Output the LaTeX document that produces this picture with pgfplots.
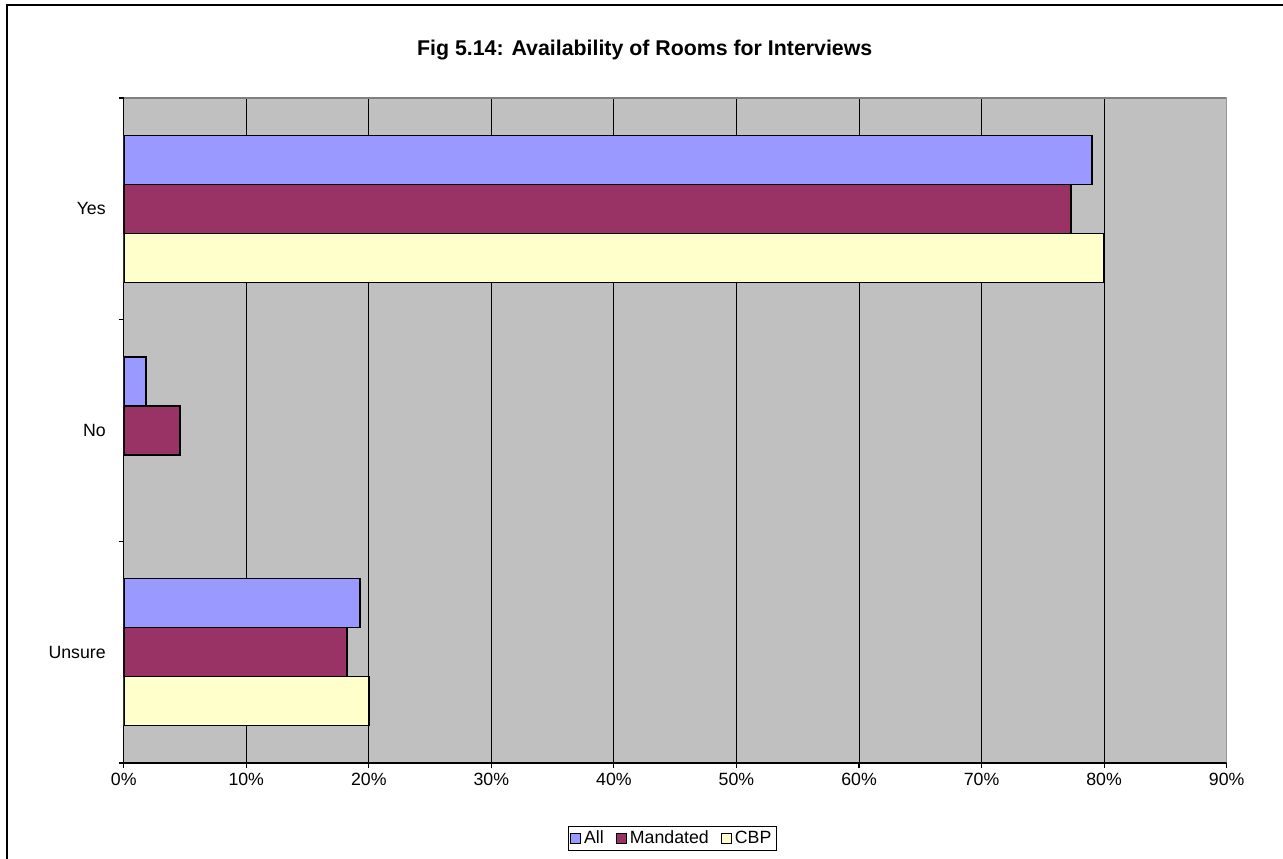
\documentclass[border=0pt]{standalone}
\usepackage{pgfplots}
\pgfplotsset{compat=1.18}
\usepackage{fontspec}
\setmainfont{Liberation Sans}
\definecolor{cAll}{HTML}{9999FF}
\definecolor{cMan}{HTML}{993366}
\definecolor{cCBP}{HTML}{FFFFCC}
\definecolor{plotbg}{HTML}{C0C0C0}
\definecolor{bordgray}{HTML}{808080}
\begin{document}
\begin{tikzpicture}
\useasboundingbox (-92.8pt,-72pt) rectangle (869.5pt,572.25pt);
\draw[line width=1.5pt] (-87.3pt,-120pt) rectangle (920pt,568.5pt);
\node[font=\bfseries\fontsize{16}{19}\selectfont, anchor=base, inner sep=0pt] at (390.75pt,530.25pt) {Fig 5.14: Availability of Rooms for Interviews};
\begin{axis}[
  at={(0pt,0pt)}, anchor=south west,
  scale only axis, width=827.25pt, height=498.75pt,
  xbar=0pt, bar width=36.75pt,
  xmin=0, xmax=90, ymin=-0.5, ymax=2.5, y dir=reverse,
  axis background/.style={fill=plotbg},
  axis x line*=bottom, axis y line*=left,
  axis line style={black, line width=0.9pt},
  xtick={0,10,...,90},
  xticklabel={\pgfmathprintnumber{\tick}\%},
  extra x ticks={10,20,30,40,50,60,70,80},
  extra x tick labels={},
  extra x tick style={grid=major, major tick length=0pt, major grid style={black, line width=0.75pt}},
  ytick={-0.5,0.5,1.5,2.5},
  yticklabels={},
  extra y ticks={0,1,2},
  extra y tick labels={Yes,No,Unsure},
  extra y tick style={major tick length=0pt, yticklabel style={xshift=-10pt}},
  tick align=outside,
  major tick length=3.75pt,
  every tick/.style={black, line width=0.8pt},
  tick label style={font=\fontsize{13.3}{15}\selectfont},
  /pgf/number format/assume math mode=true,
  legend style={at={(0.4971,-0.1135)}, anchor=center, draw=black, line width=0.6pt,
    font=\fontsize{13.3}{15}\selectfont, legend columns=3, inner sep=1.5pt,
    /tikz/every even column/.append style={column sep=7pt}},
  legend image code/.code={\draw[#1, draw=black, line width=1pt] (0pt,-3.8pt) rectangle (7.6pt,3.8pt);},
  legend cell align=left,
  reverse legend,
]
\draw[bordgray, line width=0.9pt] (rel axis cs:0,1) -- (rel axis cs:1,1) -- (rel axis cs:1,0);
\addplot[fill=cCBP, draw=black, line width=1.2pt] coordinates {(80.0,0) (20.0,2)};
\addplot[fill=cMan, draw=black, line width=1.2pt] coordinates {(77.3,0) (4.57,1) (18.2,2)};
\addplot[fill=cAll, draw=black, line width=1.2pt] coordinates {(79.0,0) (1.8,1) (19.3,2)};
\legend{CBP,Mandated,All}
\end{axis}
\end{tikzpicture}
\end{document}
